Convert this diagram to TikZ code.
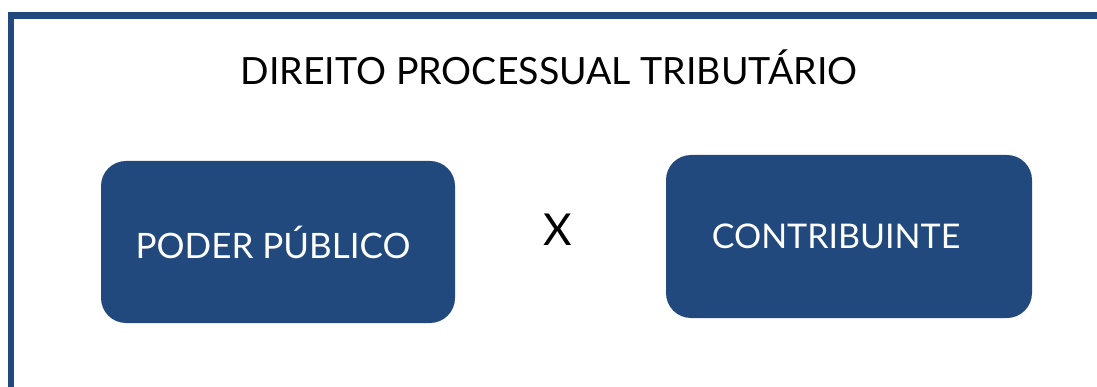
\documentclass[tikz,border=0pt]{standalone}
\usepackage{fontspec}
\setmainfont{Lato}
\usetikzlibrary{positioning}
\definecolor{navy}{RGB}{33,73,125}

\tikzset{
  bluebox/.style={draw=none,fill=navy,rounded corners=25pt,inner sep=0pt,
    text=white},
}

\begin{document}
\begin{tikzpicture}[x=1pt,y=-1pt]
\useasboundingbox (0,0) rectangle (1097,387);
\clip (0,0) rectangle (1097,387);
% frame
\draw[navy,line width=6.5pt] (11,400) -- (11,15.5) -- (1110,15.5);
% title
\node (title) at (549,67) {\fontsize{37.5}{40}\selectfont DIREITO PROCESSUAL TRIBUTÁRIO};
% boxes
\node[bluebox,minimum width=354pt,minimum height=162pt,font=\fontsize{35}{38}\selectfont] (pp) at (278,242) {\hspace*{-10pt}PODER PÚBLICO};
\node[bluebox,minimum width=366pt,minimum height=163pt,font=\fontsize{34}{37}\selectfont] (contrib) at (849,236.5) {\hspace*{-26pt}CONTRIBUINTE};
\node (versus) at (558,230) {\fontsize{44}{48}\selectfont X};
\end{tikzpicture}
\end{document}
